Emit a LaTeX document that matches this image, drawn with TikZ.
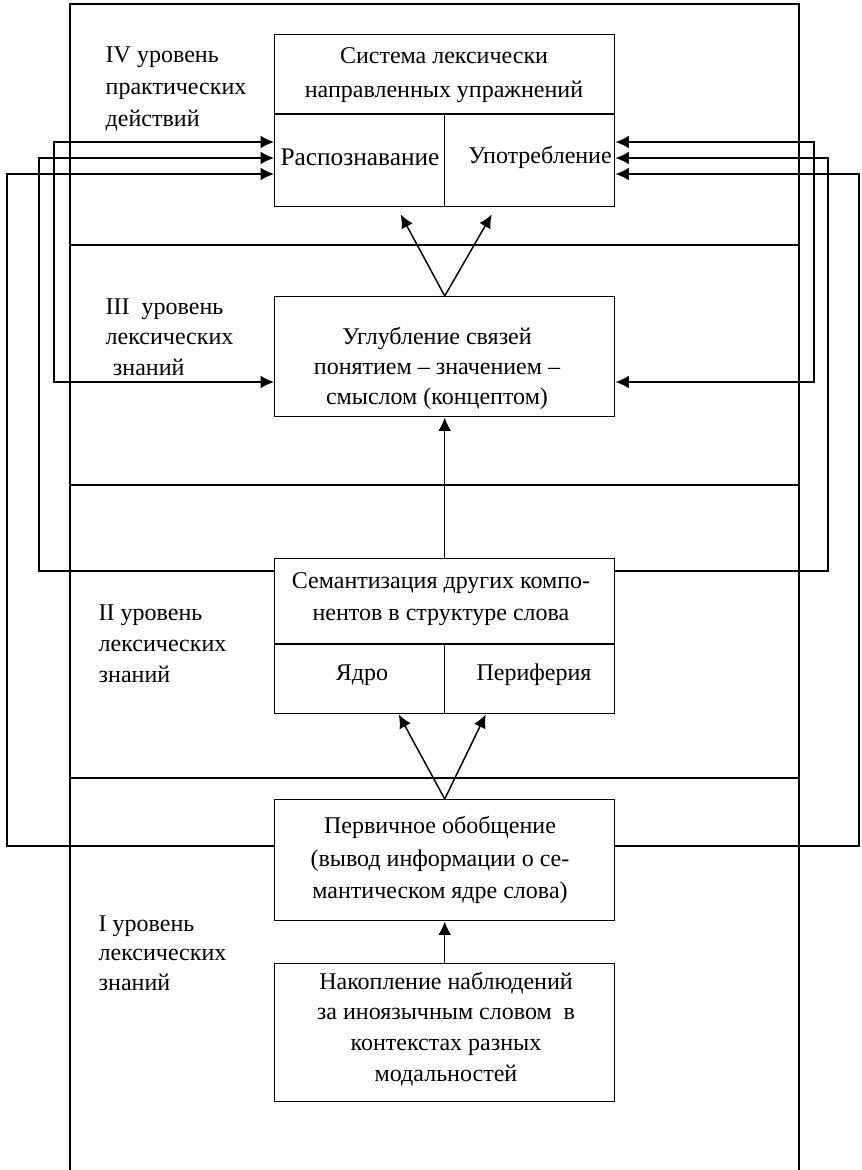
\documentclass[tikz,border=0pt]{standalone}
\usepackage{fontspec}
\setmainfont{Liberation Serif}
\usetikzlibrary{arrows.meta,calc}
\begin{document}
\begin{tikzpicture}[x=0.75pt,y=-0.75pt, line width=1.1pt,
  box/.style={draw, inner sep=0pt, minimum width=255pt, anchor=north west},
  arr/.style={-{Latex[length=10pt,width=9.5pt]}},
  arrb/.style={{Latex[length=10pt,width=9.5pt]}-{Latex[length=10pt,width=9.5pt]}},
  lbl/.style={anchor=west, align=left, inner sep=0pt, font=\fontsize{18}{24}\selectfont},
  txt/.style={align=center, inner sep=0pt, font=\fontsize{18}{24}\selectfont},
]
\useasboundingbox (0,0) rectangle (862,1170);
% outer frame, open at the bottom
\coordinate (ftl) at (70,4);
\coordinate (ftr) at (799,4);
\coordinate (fbl) at (70,1170);
\coordinate (fbr) at (799,1170);
\draw (fbl) -- (ftl) -- (ftr) -- (fbr);
\draw (70,245) -- (799,245);
\draw (70,485) -- (799,485);
\draw (70,778) -- (799,778);

% boxes
\node[box, minimum height=129pt] (boxIV) at (274,34) {};
\node[box, minimum height=90pt] (boxIII) at (274,296) {};
\node[box, minimum height=116.25pt] (boxII) at (274,558) {};
\node[box, minimum height=90.75pt] (boxI) at (274,799) {};
\node[box, minimum height=103.5pt] (box0) at (274,963) {};

% inner divisions
\draw ($(boxIV.north west)+(0,80)$) -- ($(boxIV.north east)+(0,80)$);
\draw ($(boxIV.north)+(0,80)$) -- (boxIV.south);
\draw ($(boxII.north west)+(0,86)$) -- ($(boxII.north east)+(0,86)$);
\draw ($(boxII.north)+(0,86)$) -- (boxII.south);

% texts in boxes
\node[txt, font=\fontsize{18}{26}\selectfont] (tIV) at (444,75) {Система лексически\\направленных упражнений};
\node[txt, font=\fontsize{19}{24}\selectfont] (tRasp) at (360,157) {Распознавание};
\node[txt] (tUpot) at (540,157) {Употребление};
\node[txt, font=\fontsize{18}{22.5}\selectfont] (tIII) at (437,368) {Углубление связей\\понятием – значением –\\смыслом (концептом)};
\node[txt] (tII) at (441,599) {Семантизация других компо-\\нентов в структуре слова};
\node[txt] (tYadro) at (362,675) {Ядро};
\node[txt] (tPer) at (534,675) {Периферия};
\node[txt, font=\fontsize{18}{24.4}\selectfont] (tI) at (440,860) {Первичное обобщение\\(вывод информации о се-\\мантическом ядре слова)};
\node[txt, font=\fontsize{18}{23}\selectfont] (t0) at (446,1029) {Накопление наблюдений\\за иноязычным словом \ в\\контекстах разных\\модальностей};

% level labels
\node[lbl] (lIV) at (105,89) {IV уровень\\практических\\действий};
\node[lbl, font=\fontsize{18}{23}\selectfont] (lIII) at (105,337) {III \ уровень\\лексических\\\hspace{0.3em}знаний};
\node[lbl, font=\fontsize{18}{23.25}\selectfont] (lII) at (98,644) {II уровень\\лексических\\знаний};
\node[lbl, font=\fontsize{18}{22}\selectfont] (lI) at (98,953) {I уровень\\лексических\\знаний};

% vertical arrows between levels
\draw[arr] (boxIII.north) -- ($(boxIV.south)+(-44,7)$);
\draw[arr] (boxIII.north) -- ($(boxIV.south)+(47,7)$);
\draw[arr] (boxII.north) -- (boxIII.south);
\draw[arr] (boxI.north) -- ($(boxII.south)+(-46,0)$);
\draw[arr] (boxI.north) -- ($(boxII.south)+(41,0)$);
\draw[arr] (box0.north) -- (boxI.south);

% side feedback loops
\coordinate (L1) at (54,0);
\coordinate (L2) at (39,0);
\coordinate (L3) at (7,0);
\coordinate (R1) at (814,0);
\coordinate (R2) at (828,0);
\coordinate (R3) at (859,0);
\coordinate (IVw1) at ($(boxIV.north west)+(0,108)$);
\coordinate (IVw2) at ($(boxIV.north west)+(0,124)$);
\coordinate (IVw3) at ($(boxIV.north west)+(0,140)$);
\coordinate (IVe1) at ($(boxIV.north east)+(0,108)$);
\coordinate (IVe2) at ($(boxIV.north east)+(0,124)$);
\coordinate (IVe3) at ($(boxIV.north east)+(0,140)$);
\coordinate (IIIw) at ($(boxIII.north west)+(0,86)$);
\coordinate (IIIe) at ($(boxIII.north east)+(0,86)$);
\coordinate (IIw) at ($(boxII.north west)+(0,13)$);
\coordinate (IIe) at ($(boxII.north east)+(0,13)$);
\coordinate (Iw) at ($(boxI.north west)+(0,47)$);
\coordinate (Ie) at ($(boxI.north east)+(0,47)$);

\draw[arrb] (IIIw) -- (IIIw -| L1) -- (IVw1 -| L1) -- (IVw1);
\draw[arrb] (IIIe) -- (IIIe -| R1) -- (IVe1 -| R1) -- (IVe1);
\draw[arr] (IIw) -- (IIw -| L2) -- (IVw2 -| L2) -- (IVw2);
\draw[arr] (IIe) -- (IIe -| R2) -- (IVe2 -| R2) -- (IVe2);
\draw[arr] (Iw) -- (Iw -| L3) -- (IVw3 -| L3) -- (IVw3);
\draw[arr] (Ie) -- (Ie -| R3) -- (IVe3 -| R3) -- (IVe3);
\end{tikzpicture}
\end{document}
